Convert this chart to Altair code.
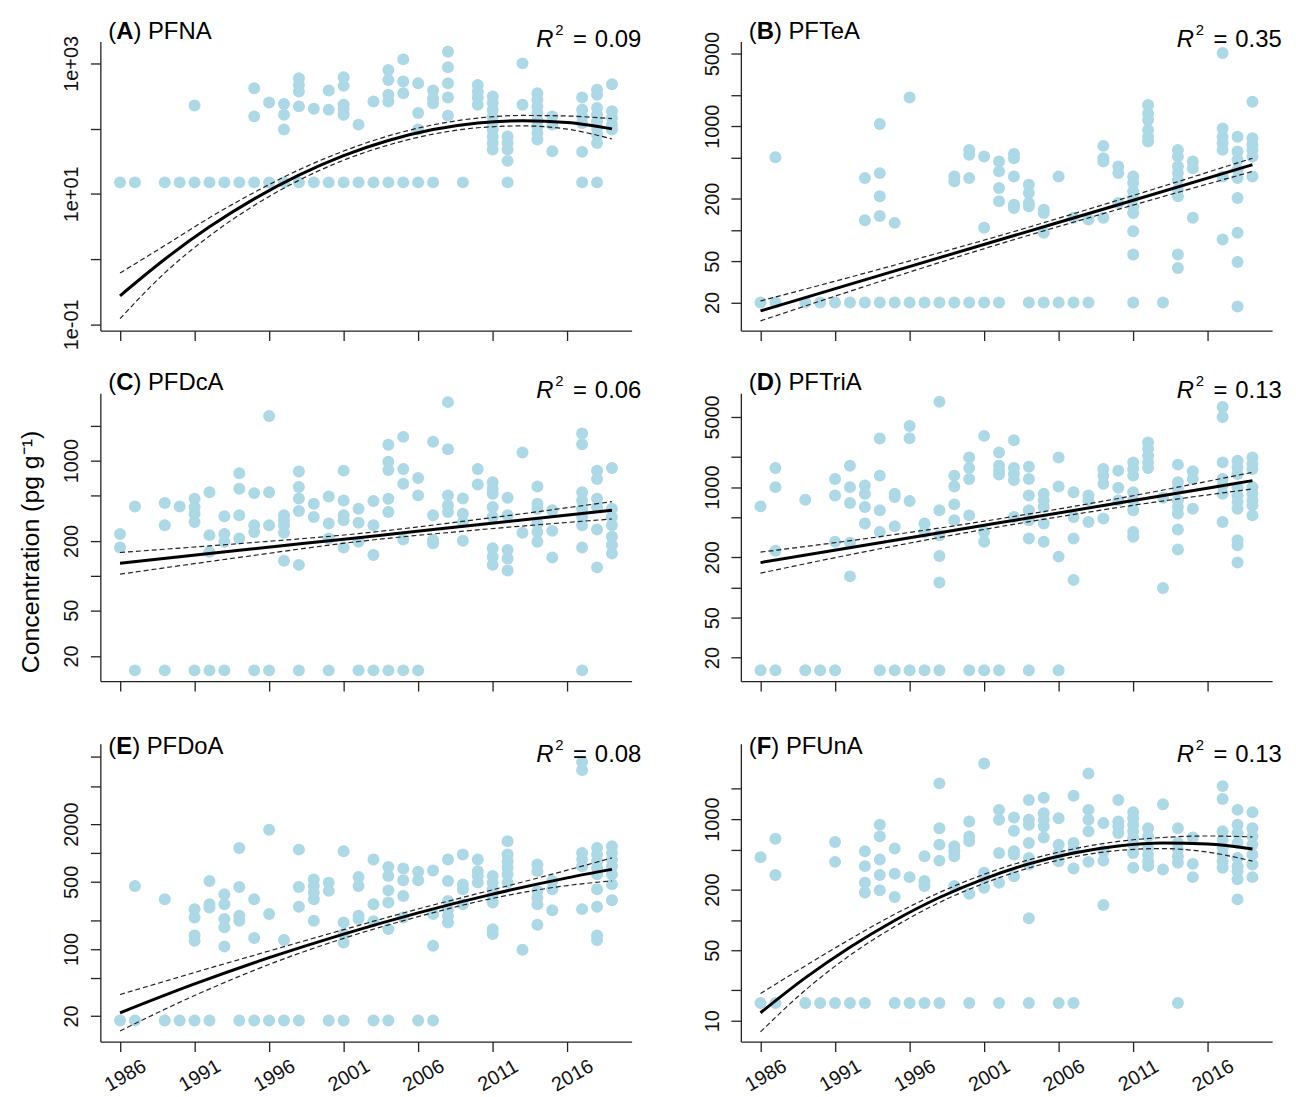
import altair as alt
import pandas as pd

FONT = "Liberation Sans"
AX = "#222222"
PT = "#ADD8E6"
W = 535
ROW_H = [291, 290, 300]
ROW_TXT_OFF = [0, 0, 13]
X_DOMAIN = [1984.68, 2020.32]
YEAR_TICKS = [1986, 1991, 1996, 2001, 2006, 2011, 2016]

# ---------------- data ----------------
A_points = {
    1986: [15], 1987: [15], 1989: [15], 1990: [15], 1991: [15, 226],
    1992: [15], 1993: [15], 1994: [15], 1995: [15, 416, 154], 1996: [15, 252],
    1997: [15, 238, 163, 97], 1998: [15, 591, 468, 371, 219], 1999: [15, 202],
    2000: [15, 384, 194], 2001: [15, 612, 452, 232, 199, 163], 2002: [15, 115],
    2003: [15, 261], 2004: [15, 791, 557, 330, 261], 2005: [15, 1151, 526, 349],
    2006: [15, 496, 173, 97], 2007: [15, 384, 293, 245], 2008: [1506, 869, 496, 300, 158],
    2009: [15], 2010: [468, 371, 300, 232], 2011: [310, 246, 195, 154, 122, 97, 76, 60, 48],
    2012: [15, 76, 60, 48, 32], 2013: [1000, 232], 2014: [349, 277, 219, 173, 137, 109, 86, 68],
    2015: [154, 115, 45], 2017: [15, 300, 195, 154, 122, 44],
    2018: [15, 393, 330, 207, 163, 129, 102, 81, 60], 2019: [479, 184, 145, 115, 97],
}
B_points = {
    1986: [20], 1987: [20, 502], 1989: [20], 1990: [20], 1991: [20], 1992: [20],
    1993: [20, 316, 124], 1994: [20, 1049, 353, 211, 136], 1995: [20, 117], 1996: [20, 1892],
    1997: [20], 1998: [20], 1999: [20, 328, 294], 2000: [20, 591, 530, 316], 2001: [20, 511, 105],
    2002: [20, 457, 367, 254, 189], 2003: [541, 492, 328, 175, 163], 2004: [20, 273, 227, 182, 169],
    2005: [20, 157, 146, 94], 2006: [20, 328], 2007: [20, 131], 2008: [20, 126],
    2009: [646, 492, 457, 131], 2010: [410, 353, 182], 2011: [20, 328, 283, 236, 203, 169, 146, 97, 58],
    2012: [1597, 1328, 1146, 919, 792, 711], 2013: [20], 2014: [591, 511, 410, 353, 305, 244, 211, 58, 43],
    2015: [457, 394, 131], 2017: [5070, 953, 792, 684, 591, 328, 81],
    2018: [792, 570, 474, 380, 316, 203, 94, 49, 18.3], 2019: [1718, 765, 661, 591, 511, 328],
}
C_points = {
    1986: [230, 176], 1987: [15, 400], 1989: [15, 428, 274], 1990: [400],
    1991: [15, 467, 395, 346, 293], 1992: [15, 532, 225, 161], 1993: [15, 328, 230, 197],
    1994: [776, 569, 335, 210], 1995: [15, 522, 274, 240], 1996: [15, 2447, 532, 274],
    1997: [335, 303, 274, 236, 135], 1998: [15, 805, 589, 468, 365, 124], 1999: [422, 323],
    2000: [15, 488, 284, 210], 2001: [819, 451, 335, 303, 176], 2002: [15, 382, 288, 197],
    2003: [15, 445, 274, 151], 2004: [15, 1374, 977, 830, 467, 357], 2005: [15, 1611, 847, 629, 206],
    2006: [15, 708, 499], 2007: [1459, 335, 204, 191], 2008: [3229, 1259, 499, 409, 357],
    2009: [468, 346, 293, 201], 2010: [847, 621], 2011: [650, 569, 515, 395, 324, 173, 146, 124],
    2012: [476, 335, 167, 141, 111], 2013: [1180, 236], 2014: [596, 422, 382, 284, 240, 197],
    2015: [370, 245, 144], 2017: [15, 1722, 1392, 532, 451, 382, 324, 274, 176],
    2018: [819, 693, 467, 395, 252, 118], 2019: [863, 382, 324, 274, 218, 185, 156],
}
D_points = {
    1986: [15, 643], 1987: [15, 1552, 1000, 232], 1989: [15, 749], 1990: [15],
    1991: [15, 1207, 826, 285], 1992: [1637, 1000, 694, 279, 129], 1993: [1038, 859, 634, 434],
    1994: [15, 3047, 1303, 588, 358], 1995: [15, 859, 796, 407], 1996: [15, 4074, 3074, 726],
    1997: [15, 434, 358], 1998: [15, 7080, 588, 332, 206, 112], 1999: [1303, 1014, 673, 468],
    2000: [15, 1977, 1552, 1207, 523], 2001: [15, 3243, 358, 285], 2002: [15, 2218, 1637, 1460, 1333],
    2003: [2937, 1552, 1353, 1180, 505], 2004: [15, 1600, 1207, 826, 588, 468, 307],
    2005: [859, 738, 634, 434, 285], 2006: [15, 1977, 1014, 203], 2007: [891, 505, 307, 119],
    2008: [826, 738, 450], 2009: [1517, 1303, 1079, 486], 2010: [1460, 984, 738],
    2011: [1766, 1517, 1303, 891, 738, 588, 358, 320], 2012: [2786, 2394, 2056, 1766, 1552],
    2013: [784, 99], 2014: [1676, 1120, 962, 738, 634, 545, 378, 239], 2015: [1438, 1207, 610],
    2017: [6285, 5000, 1766, 1207, 1038, 859, 450],
    2018: [1832, 1575, 1353, 1000, 826, 710, 610, 296, 264, 177],
    2019: [1977, 1698, 1517, 1000, 859, 738, 658, 523],
}
E_points = {
    1986: [18], 1987: [18, 453], 1989: [18, 330], 1990: [18], 1991: [18, 260, 213, 138, 122],
    1992: [18, 510, 293, 270], 1993: [372, 293, 205, 168, 106], 1994: [18, 1130, 443, 222, 197],
    1995: [18, 330, 130], 1996: [18, 1746, 231], 1997: [18, 124], 1998: [18, 1084, 443, 275],
    1999: [531, 453, 387, 330, 197], 2000: [18, 491, 403], 2001: [18, 1042, 189, 143, 117],
    2002: [561, 453, 222, 205], 2003: [18, 855, 293, 194], 2004: [18, 713, 575, 408, 305, 161],
    2005: [690, 519, 357, 213], 2006: [18, 637, 519], 2007: [18, 658, 231, 108],
    2008: [855, 510, 317, 260, 222, 189], 2009: [964, 471, 419, 293], 2010: [855, 647, 575, 491],
    2011: [575, 491, 419, 357, 305, 161, 143], 2012: [1324, 964, 822, 702, 599, 491], 2013: [98],
    2014: [759, 647, 403, 343, 293, 179], 2015: [510, 419, 253], 2017: [8900, 7300, 1002, 855, 729, 260],
    2018: [1130, 964, 822, 702, 599, 419, 275, 138, 124], 2019: [1175, 1002, 855, 729, 599, 471, 322],
}
F_points = {
    1986: [15, 419], 1987: [15, 640, 279], 1989: [15], 1990: [15], 1991: [15, 593, 377], 1992: [15],
    1993: [15, 480, 342, 234, 187], 1994: [879, 675, 397, 279, 197], 1995: [15, 511, 287, 169],
    1996: [15, 266], 1997: [15, 428, 243, 217], 1998: [15, 2266, 814, 559, 388],
    1999: [538, 480, 428, 217], 2000: [15, 948, 675, 602, 182], 2001: [3565, 294, 262, 209],
    2002: [15, 1236, 985, 462, 234], 2003: [1038, 767, 480, 445, 272],
    2004: [15, 1550, 985, 879, 581, 413, 355, 104], 2005: [1633, 1146, 985, 847, 659],
    2006: [15, 1023, 559, 462, 383], 2007: [15, 1710, 581, 499, 324], 2008: [2838, 1236, 985, 757, 377],
    2009: [914, 480, 388, 141], 2010: [1550, 948, 847, 728],
    2011: [1173, 1023, 879, 757, 650, 559, 462, 329], 2012: [814, 675, 518, 445, 383, 342],
    2013: [1406, 317], 2014: [15, 814, 581, 499, 428, 369], 2015: [659, 360, 266],
    2017: [2128, 1585, 757, 626, 518, 445, 383, 329],
    2018: [1236, 879, 728, 581, 413, 342, 305, 253, 160], 2019: [1173, 814, 675, 559, 445, 355, 266],
}

# fitted curves and confidence bands
Y12 = [1986, 1989, 1992, 1995, 1998, 2001, 2004, 2007, 2010, 2013, 2016, 2019]
Y5 = [1986, 1994, 2002, 2010, 2019]
Y8 = [1986, 1991, 1996, 2001, 2006, 2011, 2016, 2019]

A_fit = [0.274, 0.995, 3.12, 8.38, 19.4, 38.6, 65.8, 96.6, 122, 132, 124, 99.1]
A_up = [0.612, 1.61, 4.31, 10.5, 23.3, 45.3, 77.3, 114, 145, 159, 156, 142]
A_lo = [0.122, 0.614, 2.26, 6.65, 16.1, 32.8, 56.0, 82.2, 103, 110, 98.2, 69.3]
B_fit = [16.6, 36.5, 80.0, 175, 425]
B_up = [20.7, 41.9, 87.7, 194, 492]
B_lo = [13.3, 31.8, 73.0, 158, 366]
C_fit = [128, 166, 214, 277, 370]
C_up = [159, 190, 232, 308, 440]
C_lo = [103, 144, 198, 250, 311]
D_fit = [177, 279, 441, 695, 1161]
D_up = [225, 321, 483, 771, 1406]
D_lo = [139, 243, 402, 627, 959]
E_fit = [21.6, 43.2, 81.1, 143, 238, 373, 551, 675]
E_up = [33.5, 56.9, 95.3, 159, 261, 414, 662, 889]
E_lo = [14.0, 32.7, 69.0, 129, 217, 337, 458, 512]
F_fit = [12.0, 26.6, 53.6, 98.9, 167, 256, 360, 462, 542, 579, 566, 506]
F_up = [18.6, 35.0, 64.4, 114, 187, 284, 395, 507, 601, 658, 681, 667]
F_lo = [7.75, 20.1, 44.6, 86.1, 149, 231, 328, 422, 489, 511, 471, 384]

A_expr = ("datum.value > 0.05 && datum.value < 0.5 ? '1e-01' : "
          "(abs(datum.value - 10) < 0.01 ? '1e+01' : "
          "(abs(datum.value - 1000) < 0.1 ? '1e+03' : ''))")


def lab_expr(shown):
    return "indexof([" + ",".join(str(v) for v in shown) + "], datum.value) >= 0 ? datum.label : ''"


PANELS = {
    "A": dict(name="PFNA", r2="0.09", pts=A_points, fy=Y12, fit=A_fit, up=A_up, lo=A_lo,
              ydom=[0.0802, 2154], ticks=[0.1, 1, 10, 100, 1000], expr=A_expr, fmt=None, bw=17.3),
    "B": dict(name="PFTeA", r2="0.35", pts=B_points, fy=Y5, fit=B_fit, up=B_up, lo=B_lo,
              ydom=[10.72, 6531], ticks=[20, 50, 100, 200, 500, 1000, 2000, 5000],
              expr=lab_expr([20, 50, 200, 1000, 5000]), fmt="d", bw=17.3),
    "C": dict(name="PFDcA", r2="0.06", pts=C_points, fy=Y5, fit=C_fit, up=C_up, lo=C_lo,
              ydom=[12.09, 3866], ticks=[20, 50, 100, 200, 500, 1000, 2000],
              expr=lab_expr([20, 50, 200, 1000]), fmt="d", bw=17.3),
    "D": dict(name="PFTriA", r2="0.13", pts=D_points, fy=Y5, fit=D_fit, up=D_up, lo=D_lo,
              ydom=[11.66, 8644], ticks=[20, 50, 100, 200, 500, 1000, 2000, 5000],
              expr=lab_expr([20, 50, 200, 1000, 5000]), fmt="d", bw=17.3),
    "E": dict(name="PFDoA", r2="0.08", pts=E_points, fy=Y8, fit=E_fit, up=E_up, lo=E_lo,
              ydom=[10.84, 13770], ticks=[20, 50, 100, 200, 500, 1000, 2000, 5000, 10000],
              expr=lab_expr([20, 100, 500, 2000]), fmt="d", bw=16.0),
    "F": dict(name="PFUnA", r2="0.13", pts=F_points, fy=Y12, fit=F_fit, up=F_up, lo=F_lo,
              ydom=[6.21, 5610], ticks=[10, 20, 50, 100, 200, 500, 1000, 2000],
              expr=lab_expr([10, 50, 200, 1000]), fmt="d", bw=14.7),
}


def txt(s, x, y, size=24, weight="normal", style="normal", align="left",
        baseline="alphabetic", angle=0):
    return alt.Chart(pd.DataFrame({"t": [s]})).mark_text(
        font=FONT, fontSize=size, fontWeight=weight, fontStyle=style, align=align,
        baseline=baseline, angle=angle, color="black"
    ).encode(text="t:N", x=alt.value(x), y=alt.value(y))


def make_panel(letter, row, bottom, ytitle=False):
    p = PANELS[letter]
    h = ROW_H[row]
    off = ROW_TXT_OFF[row]
    dfp = pd.DataFrame([(yr, v) for yr, vals in p["pts"].items() for v in vals],
                       columns=["year", "value"])
    dff = pd.DataFrame({"year": p["fy"], "value": p["fit"]})
    n = len(p["fy"])
    dfci = pd.DataFrame({"year": p["fy"] + p["fy"], "value": p["up"] + p["lo"],
                         "band": ["upper"] * n + ["lower"] * n})

    xax = dict(values=YEAR_TICKS, format="d", labels=bottom, grid=False, title="",
               tickSize=10, tickWidth=1.3, tickColor=AX, domainColor=AX, domainWidth=1.3,
               labelFlush=False, labelOverlap=False)
    if bottom:
        xax.update(labelAngle=330, labelAlign="center", labelBaseline="middle",
                   labelPadding=24, labelOffset=5, labelFontSize=20, labelFont=FONT,
                   labelColor="#111111")
    yax = dict(values=p["ticks"], labelExpr=p["expr"], grid=False, title="",
               labelAngle=270, labelAlign="center", labelBaseline="bottom", labelPadding=9,
               labelFontSize=20, labelFont=FONT, labelColor="#111111", labelOverlap=False,
               labelFlush=False, tickSize=10, tickWidth=1.3, tickColor=AX,
               domainColor=AX, domainWidth=1.3)
    if p["fmt"]:
        yax["format"] = p["fmt"]

    X = alt.X("year:Q", scale=alt.Scale(domain=X_DOMAIN, nice=False, zero=False),
              axis=alt.Axis(**xax))
    Y = alt.Y("value:Q", scale=alt.Scale(type="log", domain=p["ydom"], nice=False),
              axis=alt.Axis(**yax))

    pts = alt.Chart(dfp).mark_circle(size=145, color=PT, opacity=1).encode(x=X, y=Y)
    ci = alt.Chart(dfci).mark_line(color="#222222", strokeWidth=1.2, strokeDash=[5, 3],
                                   interpolate="monotone").encode(x=X, y=Y, detail="band:N")
    fit = alt.Chart(dff).mark_line(color="black", strokeWidth=3,
                                   interpolate="monotone").encode(x=X, y=Y)

    layers = [pts, ci, fit,
              txt("(", 8, off - 3),
              txt(letter, 16, off - 3, weight="bold"),
              txt(") " + p["name"], 16 + p["bw"], off - 3),
              txt("R", W - 96, off + 5, style="italic"),
              txt("2", W - 77, off - 7, size=15),
              txt("=", W - 59, off + 5),
              txt(p["r2"], W - 37, off + 5)]
    if ytitle:
        layers.append(txt("Concentration (pg g\u207b\u00b9)", -70, 160, size=25,
                          align="center", baseline="middle", angle=270))
    return alt.layer(*layers).properties(width=W, height=h)


chart = alt.concat(
    make_panel("A", 0, False), make_panel("B", 0, False),
    make_panel("C", 1, False, ytitle=True), make_panel("D", 1, False),
    make_panel("E", 2, True), make_panel("F", 2, True),
    columns=2, spacing=alt.RowColnumber(row=63, column=110), bounds="flush",
).properties(
    padding={"left": 10, "top": 7, "right": 5, "bottom": 5}
).configure_view(stroke="transparent")

chart.save("out.html", embed_options={"renderer": "svg", "actions": False})
